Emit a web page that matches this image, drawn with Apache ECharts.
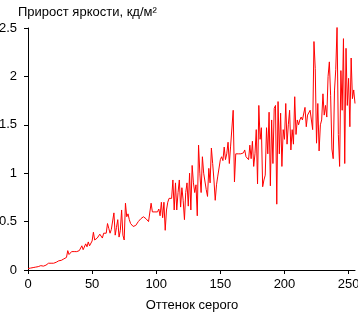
<!DOCTYPE html>
<html>
<head>
<meta charset="utf-8">
<script src="https://cdn.jsdelivr.net/npm/echarts@6/dist/echarts.min.js"></script>
<style>html,body{margin:0;padding:0;background:#fff}#c{width:358px;height:312px}</style>
</head>
<body>
<div id="c"></div>
<script>
var yTitle = 'Прирост яркости, кд/м²';
var xTitle = 'Оттенок серого';
var xTicks = [0, 50, 100, 150, 200, 250];
var yTicks = [0, 0.5, 1, 1.5, 2, 2.5];
// luminance increment per gray level, levels 0..255
var increment = [
0.015,0.015,0.02,0.02,0.025,0.025,0.03,0.03,0.035,0.04,
0.045,0.05,0.04,0.045,0.05,0.06,0.07,0.065,0.07,0.075,
0.07,0.075,0.08,0.09,0.095,0.09,0.1,0.11,0.115,0.12,
0.13,0.2,0.16,0.18,0.19,0.185,0.19,0.2,0.19,0.21,
0.2,0.22,0.25,0.21,0.23,0.27,0.24,0.29,0.25,0.27,
0.3,0.39,0.31,0.33,0.33,0.33,0.37,0.37,0.33,0.38,
0.39,0.38,0.48,0.43,0.38,0.42,0.44,0.59,0.36,0.44,
0.52,0.34,0.41,0.62,0.36,0.31,0.69,0.55,0.58,0.52,
0.48,0.46,0.45,0.45,0.46,0.48,0.5,0.52,0.53,0.54,
0.55,0.54,0.53,0.51,0.5,0.52,0.69,0.6,0.6,0.6,
0.61,0.6,0.63,0.56,0.7,0.54,0.7,0.41,0.62,0.7,
0.74,0.72,0.74,0.93,0.62,0.9,0.62,0.8,0.93,0.65,
0.85,0.72,0.52,0.8,0.9,0.66,1.0,0.62,1.08,0.9,
0.8,0.88,0.56,1.29,1.0,0.8,1.17,1.0,0.99,0.83,
0.76,1.05,0.9,1.26,1.1,0.93,0.72,0.88,0.97,0.98,
1.14,1.17,1.13,1.27,1.14,1.2,1.32,1.1,1.28,1.29,
1.65,0.91,1.2,1.22,1.2,1.22,1.2,1.18,1.21,1.24,
1.17,1.18,1.14,1.29,1.15,1.33,1.07,1.2,1.45,0.89,
1.7,1.35,1.47,0.86,0.93,0.98,1.47,1.2,1.63,0.87,
1.55,1.1,1.67,1.7,0.68,1.74,1.2,1.62,1.07,1.45,
1.35,1.72,1.3,1.5,1.65,1.24,1.45,1.3,1.79,1.4,
1.55,1.5,1.55,1.58,1.55,1.53,1.68,1.48,1.6,1.62,
1.65,1.55,1.45,2.36,2.08,1.31,1.72,1.23,1.5,1.55,
1.82,1.6,1.7,1.58,2.0,2.15,1.8,1.25,1.15,1.85,
2.07,2.51,1.4,1.07,2.06,1.65,2.39,1.1,2.29,1.7,
1.98,1.48,2.19,1.77,1.86,1.72
];
var font = 'Liberation Sans, Arial, sans-serif';
var chart = echarts.init(document.getElementById('c'), null, {renderer: 'canvas'});
chart.setOption({
  animation: false,
  backgroundColor: '#ffffff',
  title: [
    {text: yTitle, left: 13, top: 1, textStyle: {fontFamily: font, fontSize: 13, fontWeight: 'normal', color: '#000'}},
    {text: xTitle, left: 187, textAlign: 'center', top: 294, textStyle: {fontFamily: font, fontSize: 13, fontWeight: 'normal', color: '#000'}}
  ],
  grid: {left: 28, right: 3, top: 28, bottom: 42, containLabel: false, outerBoundsMode: 'none'},
  xAxis: {
    type: 'value', min: xTicks[0], max: 255, interval: 50,
    axisLine: {show: true, lineStyle: {color: '#000', width: 1}},
    axisTick: {show: true, length: 4, lineStyle: {color: '#000'}},
    splitLine: {show: false},
    axisLabel: {margin: 8, fontFamily: font, fontSize: 13, color: '#000',
      showMaxLabel: false,
      formatter: function (v) { return xTicks.indexOf(v) >= 0 ? String(v) : ''; }}
  },
  yAxis: {
    type: 'value', min: yTicks[0], max: yTicks[yTicks.length - 1], interval: 0.5,
    axisLine: {show: true, lineStyle: {color: '#000', width: 1}},
    axisTick: {show: true, length: 4, lineStyle: {color: '#000'}},
    splitLine: {show: false},
    axisLabel: {margin: 11, fontFamily: font, fontSize: 13, color: '#000',
      formatter: function (v) { return String(v); }}
  },
  series: [{
    type: 'line',
    data: increment.map(function (v, i) { return [i, v]; }),
    showSymbol: false,
    symbol: 'none',
    sampling: null,
    lineStyle: {color: '#ff0000', width: 1},
    itemStyle: {color: '#ff0000'}
  }]
});
</script>
</body>
</html>
